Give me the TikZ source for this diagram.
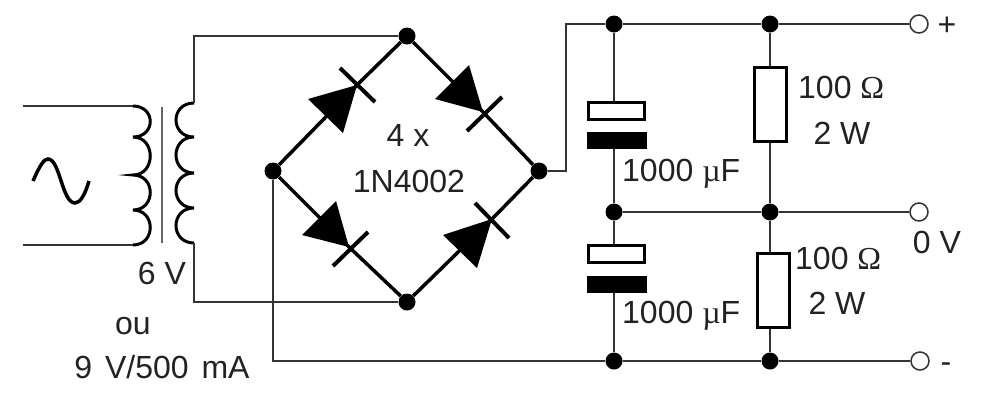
\documentclass[tikz,border=0pt]{standalone}
\usepackage{fontspec}
\setmainfont{Liberation Sans}
\newfontfamily\greekfont{Liberation Serif}
\definecolor{cWire}{HTML}{333333}
\definecolor{cText}{HTML}{222222}
\tikzset{
	wire/.style={line width=1.5pt,cWire},
	bridge/.style={line width=3.5pt,black},
	dot/.style={circle,fill=black,inner sep=0pt,minimum size=17pt},
	terminal/.style={circle,draw=cWire,fill=white,line width=1.5pt,inner sep=0pt,minimum size=18pt},
	capwhite/.style={rectangle,draw=black,fill=white,line width=3pt,inner sep=0pt,minimum width=56pt,minimum height=17pt},
	capblack/.style={rectangle,fill=black,inner sep=0pt,minimum width=60pt,minimum height=17pt},
	resistor/.style={rectangle,draw=black,fill=white,line width=3pt,inner sep=0pt,minimum width=32pt,minimum height=74pt},
	label/.style={inner sep=0pt,text=cText,text height=23pt,text depth=0pt,font=\fontsize{32}{36}\selectfont}
}

\begin{document}
\begin{tikzpicture}[x=1pt,y=-1pt]
	\useasboundingbox (0,0) rectangle (994,408);
	% diode bridge
	\node[dot] (top) at (407,36) {};
	\node[dot] (left) at (273,171) {};
	\node[dot] (right) at (539,171) {};
	\node[dot] (bottom) at (407,302) {};
	\coordinate (tipTL) at (357,85);
	\coordinate (tipTR) at (483,112);
	\coordinate (tipBL) at (349,247);
	\coordinate (tipBR) at (492,219);
	\draw[bridge] (left) -- (tipTL) -- (top) -- (tipTR) -- (right) -- (tipBR) -- (bottom) -- (tipBL) -- (left);
	\fill (tipTL) -- (308,99) -- (343,133) -- cycle;
	\fill (tipTR) -- (435,99) -- (469,65) -- cycle;
	\fill (tipBL) -- (302,235) -- (336,201) -- cycle;
	\fill (tipBR) -- (443,235) -- (477,268) -- cycle;
	\draw[bridge,line width=4pt] (340,68) -- (375,102) (467,131) -- (502,97) (333,266) -- (368,232) (475,203) -- (509,238);
	\node[label] (nbDiodes) at (408,135) {4 x};
	\node[label] (typeDiodes) at (409,181) {1N4002};
	% transformer
	\coordinate (inA) at (23,106);
	\coordinate (inB) at (23,245);
	\coordinate (priA) at (133,106);
	\coordinate (priB) at (133,245);
	\coordinate (secA) at (194,103);
	\coordinate (secB) at (194,243);
	\draw[wire] (inA) -- (priA) (inB) -- (priB);
	\draw[line width=3pt] (priA) .. controls (156,106) and (156,137) .. (133,137) .. controls (156,137) and (156,175) .. (133,175) .. controls (156,175) and (156,210) .. (133,210) .. controls (156,210) and (156,245) .. (priB);
	\draw[line width=3pt] (secA) .. controls (170,103) and (170,137) .. (194,137) .. controls (170,137) and (170,173) .. (194,173) .. controls (170,173) and (170,208) .. (194,208) .. controls (170,208) and (170,243) .. (secB);
	\draw[line width=2pt,black!60] (162,107) -- (162,243);
	\draw[line width=3.5pt] (33,181) .. controls (40,165) and (44,159) .. (48,159) .. controls (60,159) and (62,203) .. (75,203) .. controls (80,203) and (85,195) .. (89,181);
	\node[label] (volts) at (162,273) {6 V};
	\node[label] (orText) at (133,323) {ou};
	\node[label] (voltsAlt) at (162,367) {9\hspace{4pt} V/500\hspace{4pt} mA};
	\draw[wire] (secA) |- (top);
	\draw[wire] (secB) |- (bottom);
	% rails
	\node[dot] (capTop) at (614,24) {};
	\node[dot] (resTop) at (770,24) {};
	\node[terminal] (plus) at (919,24) {};
	\node[dot] (capMid) at (614,212) {};
	\node[dot] (resMid) at (770,212) {};
	\node[terminal] (zero) at (919,212) {};
	\node[dot] (capLow) at (614,361) {};
	\node[dot] (resLow) at (770,361) {};
	\node[terminal] (minus) at (920,361) {};
	\draw[wire] (right) -- (566,171) |- (capTop) -- (resTop) -- (plus);
	\draw[wire] (capMid) -- (resMid) -- (zero);
	\draw[wire] (left) |- (capLow) -- (resLow) -- (minus);
	% capacitors
	\node[capwhite] (c1a) at (616.5,111) {};
	\node[capblack] (c1b) at (617,140.5) {};
	\node[capwhite] (c2a) at (616.5,254) {};
	\node[capblack] (c2b) at (617,284) {};
	\draw[wire] (capTop) -- (capTop |- c1a.north);
	\draw[wire] (capMid) -- (capMid |- c1b.south);
	\draw[wire] (capMid) -- (capMid |- c2a.north);
	\draw[wire] (capLow) -- (capLow |- c2b.south);
	\node[label,anchor=west] (c1Val) at (622,170) {1000 {\greekfont µ}F};
	\node[label,anchor=west] (c2Val) at (622,312) {1000 {\greekfont µ}F};
	% resistors
	\node[resistor] (r1) at (770.5,104) {};
	\node[resistor] (r2) at (773,290) {};
	\draw[wire] (resTop) -- (resTop |- r1.north);
	\draw[wire] (resMid) -- (resMid |- r1.south);
	\draw[wire] (resMid) -- (resMid |- r2.north);
	\draw[wire] (resLow) -- (resLow |- r2.south);
	\node[label,anchor=west] (r1Val) at (798,87) {100 {\greekfont Ω}};
	\node[label] (r1Pow) at (842,133) {2 W};
	\node[label,anchor=west] (r2Val) at (795,258) {100 {\greekfont Ω}};
	\node[label] (r2Pow) at (837,303) {2 W};
	% outputs
	\node[label] (plusText) at (947,24) {+};
	\node[label] (zeroText) at (937,242) {0 V};
	\node[label] (minusText) at (946,361) {-};
\end{tikzpicture}
\end{document}
